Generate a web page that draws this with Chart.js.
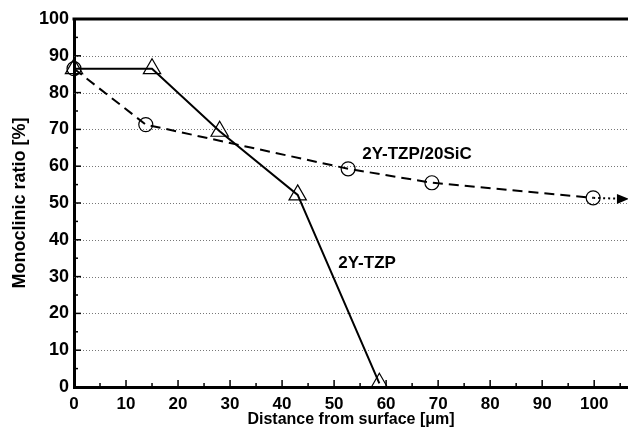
<!DOCTYPE html>
<html>
<head>
<meta charset="utf-8">
<script src="https://cdn.jsdelivr.net/npm/chart.js@4.4.0/dist/chart.umd.min.js"></script>
<style>
  html, body { margin: 0; padding: 0; background: #fff; }
  #wrap { width: 628px; height: 432px; }
</style>
</head>
<body>
<div id="wrap"><canvas id="myChart" width="628" height="432"></canvas></div>
<script>
// 2Y-TZP (triangles, solid line)
const tzpX = [0, 15, 28, 43, 58.7];
const tzpY = [86.5, 86.5, 69.5, 52.2, 1];

// 2Y-TZP/20SiC (circles, dashed line)
const sicX = [0, 13.8, 52.7, 68.8, 99.8];
const sicY = [86.5, 71.3, 59.3, 55.5, 51.4];

// dotted continuation with arrow
const arrowX = [99.8, 106.3];
const arrowY = [51.4, 51.1];

const yTicks = [0, 10, 20, 30, 40, 50, 60, 70, 80, 90, 100];
const xTicks = [0, 10, 20, 30, 40, 50, 60, 70, 80, 90, 100];

const seriesLabels = ['2Y-TZP', '2Y-TZP/20SiC'];
const labelPos = [[50.8, 33.7], [55.4, 63.1]];

const xMax = 106.5;

function toPoints(xs, ys) {
  return xs.map(function(x, i) { return { x: x, y: ys[i] }; });
}

const font = 'Liberation Sans, Arial, Helvetica, sans-serif';

const decor = {
  id: 'decor',
  beforeDatasetsDraw(chart) {
    // dotted horizontal grid
    const ctx = chart.ctx;
    const ys = chart.scales.y;
    const area = chart.chartArea;
    ctx.save();
    ctx.strokeStyle = '#777';
    ctx.lineWidth = 1;
    ctx.setLineDash([1, 2]);
    yTicks.forEach(function(v) {
      if (v === 0 || v === 100) return;
      const y = Math.round(ys.getPixelForValue(v)) + 0.5;
      ctx.beginPath();
      ctx.moveTo(area.left, y);
      ctx.lineTo(area.right, y);
      ctx.stroke();
    });
    ctx.restore();
  },
  afterDatasetsDraw(chart) {
    const ctx = chart.ctx;
    const xs = chart.scales.x;
    const ys = chart.scales.y;
    const area = chart.chartArea;
    ctx.save();
    ctx.strokeStyle = '#000';

    // top frame line
    ctx.lineWidth = 3;
    ctx.beginPath();
    ctx.moveTo(area.left - 1.5, ys.getPixelForValue(100));
    ctx.lineTo(area.right, ys.getPixelForValue(100));
    ctx.stroke();

    // inward ticks
    ctx.lineWidth = 1.5;
    for (let v = 0; v <= 100; v += 5) {
      const y = ys.getPixelForValue(v);
      const len = v % 10 === 0 ? 7 : 4;
      ctx.beginPath();
      ctx.moveTo(area.left, y);
      ctx.lineTo(area.left + len, y);
      ctx.stroke();
    }
    for (let v = 5; v <= xMax; v += 5) {
      const x = xs.getPixelForValue(v);
      const len = v % 10 === 0 ? 7 : 4;
      ctx.beginPath();
      ctx.moveTo(x, area.bottom);
      ctx.lineTo(x, area.bottom - len);
      ctx.stroke();
    }

    // arrow head
    const meta = chart.getDatasetMeta(2);
    const p = meta.data[meta.data.length - 1];
    ctx.fillStyle = '#000';
    ctx.beginPath();
    ctx.moveTo(p.x + 2, p.y);
    ctx.lineTo(p.x - 10, p.y - 5);
    ctx.lineTo(p.x - 10, p.y + 5);
    ctx.closePath();
    ctx.fill();

    // series labels
    ctx.font = 'bold 17px ' + font;
    ctx.textBaseline = 'middle';
    ctx.textAlign = 'left';
    seriesLabels.forEach(function(t, i) {
      ctx.fillText(t, xs.getPixelForValue(labelPos[i][0]), ys.getPixelForValue(labelPos[i][1]));
    });
    ctx.restore();
  }
};

const ctx = document.getElementById('myChart').getContext('2d');
const chart = new Chart(ctx, {
  type: 'scatter',
  data: {
    datasets: [
      {
        label: seriesLabels[1],
        data: toPoints(sicX, sicY),
        showLine: true,
        borderColor: '#000',
        borderWidth: 2,
        borderDash: [10, 6],
        pointStyle: 'circle',
        pointRadius: 7,
        pointBorderWidth: 1.2,
        pointBackgroundColor: 'rgba(0,0,0,0)',
        pointBorderColor: '#000',
        tension: 0,
        clip: false,
        order: 2
      },
      {
        label: seriesLabels[0],
        data: toPoints(tzpX, tzpY),
        showLine: true,
        borderColor: '#000',
        borderWidth: 2,
        pointStyle: 'triangle',
        pointRadius: 10,
        pointBorderWidth: 1.2,
        pointBackgroundColor: 'rgba(0,0,0,0)',
        pointBorderColor: '#000',
        tension: 0,
        clip: false,
        order: 1
      },
      {
        label: 'arrow',
        data: toPoints(arrowX, arrowY),
        showLine: true,
        borderColor: '#000',
        borderWidth: 2,
        borderDash: [2, 3],
        pointRadius: 0,
        tension: 0,
        clip: false,
        order: 3
      }
    ]
  },
  options: {
    responsive: false,
    animation: false,
    layout: { autoPadding: false, padding: { top: 19, right: 0, left: 0, bottom: 0 } },
    plugins: {
      legend: { display: false },
      tooltip: { enabled: false }
    },
    scales: {
      x: {
        type: 'linear',
        min: 0,
        max: xMax,
        afterBuildTicks: function(s) {
          s.ticks = xTicks.map(function(v) { return { value: v }; });
        },
        afterFit: function(s) {
          s.height = 45;
          s.paddingRight = 0;
          s.paddingLeft = 0;
        },
        grid: { display: false, drawTicks: false },
        border: { display: true, color: '#000', width: 3 },
        ticks: {
          color: '#000',
          padding: 7,
          maxRotation: 0,
          font: { family: font, size: 17, weight: 'bold' }
        },
        title: {
          display: true,
          text: 'Distance from surface [μm]',
          color: '#000',
          padding: { top: 0, bottom: 3 },
          font: { family: font, size: 16, weight: 'bold' }
        }
      },
      y: {
        min: 0,
        max: 100,
        afterBuildTicks: function(s) {
          s.ticks = yTicks.map(function(v) { return { value: v }; });
        },
        afterFit: function(s) { s.width = 74; },
        grid: { display: false, drawTicks: false },
        border: { display: true, color: '#000', width: 3 },
        ticks: {
          color: '#000',
          padding: 5,
          font: { family: font, size: 18, weight: 'bold' }
        },
        title: {
          display: true,
          text: 'Monoclinic ratio [%]',
          color: '#000',
          padding: { top: 9, bottom: 0 },
          font: { family: font, size: 18, weight: 'bold' }
        }
      }
    }
  },
  plugins: [decor]
});
</script>
</body>
</html>
